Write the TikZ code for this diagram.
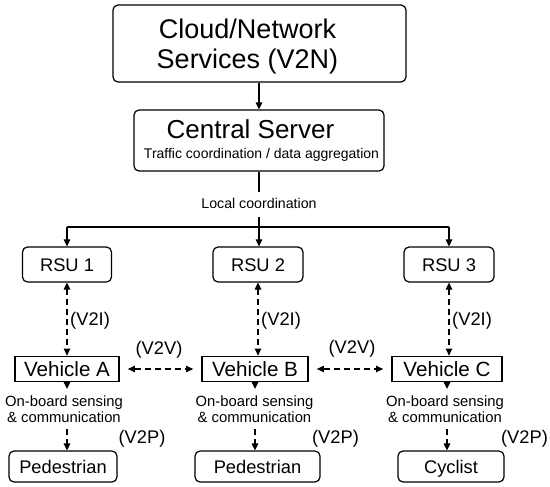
\documentclass[tikz,border=0pt]{standalone}
\usepackage{fontspec}
\setmainfont{Liberation Sans}
\usetikzlibrary{arrows.meta}
\begin{document}
\begin{tikzpicture}[x=1pt,y=-1pt,
  rbox/.style={draw, rounded corners=5pt, line width=1.2pt, inner sep=0pt},
  vbox/.style={draw, line width=1.8pt, inner sep=0pt, minimum height=25pt,
    text height=14pt, text depth=0pt, font=\fontsize{20.6}{24}\selectfont},
  ubox/.style={rbox, text height=13pt, text depth=0pt, font=\fontsize{18.3}{22}\selectfont},
  lbl/.style={inner sep=0pt, font=\fontsize{18.3}{22}\selectfont},
  conn/.style={line width=1.2pt},
  myarrow/.style={conn, -{Triangle[length=7pt,width=6.5pt]}},
  twoarrow/.style={conn, {Triangle[length=7pt,width=6.5pt]}-{Triangle[length=7pt,width=6.5pt]}},
  dsh/.style={dash pattern=on 6pt off 4pt},
  obs/.style={inner sep=0pt, align=center, font=\fontsize{14.8}{16.5}\selectfont}
]
\useasboundingbox[fill=white] (0,0) rectangle (550,487);

% top boxes
\node[rbox, minimum width=293pt, minimum height=77pt] (cloud) at (259.5,43.5) {};
\node[inner sep=0pt, align=center, font=\fontsize{27}{30}\selectfont] (cloudtext) at (247.5,47) {Cloud/Network\\Services (V2N)};

\node[rbox, minimum width=250pt, minimum height=61pt] (central) at (259,140.5) {};
\node[inner sep=0pt, anchor=base, font=\fontsize{26}{30}\selectfont] (centraltitle) at (250.5,139) {Central Server};
\node[inner sep=0pt, anchor=base, font=\fontsize{14}{16}\selectfont] (centralsub) at (261.5,159) {Traffic coordination / data aggregation};

\node[inner sep=0pt, anchor=base, font=\fontsize{14.2}{16}\selectfont] (local) at (259,208) {Local coordination};

% RSUs
\node[ubox, minimum width=89pt, minimum height=35pt] (rsu1) at (67,264.5) {RSU 1};
\node[ubox, minimum width=90pt, minimum height=35pt] (rsu2) at (258,264.5) {RSU 2};
\node[ubox, minimum width=90pt, minimum height=35pt] (rsu3) at (449,264.5) {RSU 3};

% vehicles
\node[vbox, minimum width=104pt] (veha) at (67,369) {Vehicle A};
\node[vbox, minimum width=106pt] (vehb) at (255,369) {Vehicle B};
\node[vbox, minimum width=110pt] (vehc) at (447,369) {Vehicle C};

% end users
\node[ubox, minimum width=108pt, minimum height=31pt] (ped1) at (63,466.5) {Pedestrian};
\node[ubox, minimum width=125pt, minimum height=31pt] (ped2) at (257.5,466.5) {Pedestrian};
\node[ubox, minimum width=106pt, minimum height=31pt] (cyc) at (451,466.5) {Cyclist};

% on-board texts
\node[obs] (obs1) at (64,409.3) {On-board sensing\\\& communication};
\node[obs] (obs2) at (254.5,409.3) {On-board sensing\\\& communication};
\node[obs] (obs3) at (445,409.3) {On-board sensing\\\& communication};

% labels
\node[lbl, anchor=west] (v2i1) at (70,321) {(V2I)};
\node[lbl, anchor=west] (v2i2) at (261,321) {(V2I)};
\node[lbl, anchor=west] (v2i3) at (452,321) {(V2I)};
\node[lbl] (v2v1) at (159,350) {(V2V)};
\node[lbl] (v2v2) at (352,349) {(V2V)};
\node[lbl] (v2p1) at (142,438.5) {(V2P)};
\node[lbl] (v2p2) at (335.5,438.5) {(V2P)};
\node[lbl] (v2p3) at (524.5,438.5) {(V2P)};

% connectors
\draw[myarrow] (cloud.south -| central.north) -- (central.north);
\draw[conn, shorten >=6pt] (central.south) -- (local.north);
\coordinate (bus) at (259,227);
\draw[myarrow, shorten <=9pt] (local.south) -- (local.south |- rsu2.north);
\draw[conn] (rsu1.north |- bus) -- (rsu3.north |- bus);
\draw[myarrow] (rsu1.north |- bus) -- (rsu1.north);
\draw[myarrow] (rsu3.north |- bus) -- (rsu3.north);

\draw[twoarrow, dsh] (rsu1.south) -- (rsu1.south |- veha.north);
\draw[twoarrow, dsh] (rsu2.south) -- (rsu2.south |- vehb.north);
\draw[twoarrow, dsh] (rsu3.south) -- (rsu3.south |- vehc.north);

\draw[twoarrow, dsh, shorten <=8pt, shorten >=8pt] (veha.east) -- (vehb.west);
\draw[twoarrow, dsh, shorten <=8pt, shorten >=8pt] (vehb.east) -- (vehc.west);

\draw[myarrow, dsh, shorten >=6.5pt] (veha.south) -- (veha.south |- obs1.north);
\draw[myarrow, dsh, shorten >=6.5pt] (vehb.south) -- (vehb.south |- obs2.north);
\draw[myarrow, dsh, shorten >=6.5pt] (vehc.south) -- (vehc.south |- obs3.north);

\draw[myarrow, dsh, shorten <=6pt] (veha.south |- obs1.south) -- (veha.south |- ped1.north);
\draw[myarrow, dsh, shorten <=6pt] (vehb.south |- obs2.south) -- (vehb.south |- ped2.north);
\draw[myarrow, dsh, shorten <=6pt] (vehc.south |- obs3.south) -- (vehc.south |- cyc.north);
\end{tikzpicture}
\end{document}
